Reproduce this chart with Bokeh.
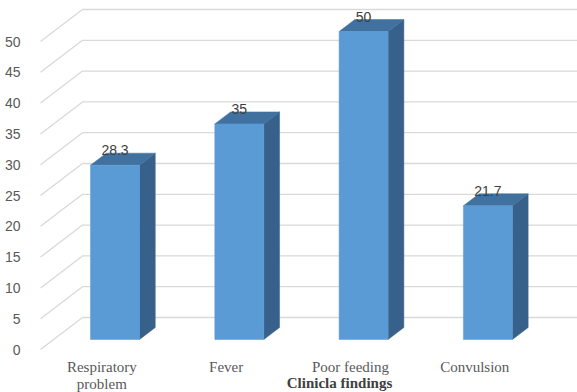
from bokeh.plotting import figure
from bokeh.models import Range1d, LinearAxis, FixedTicker, Label
from bokeh.core.properties import value
from bokeh.embed import file_html
from bokeh.resources import INLINE

# Data
categories = ["Respiratory\nproblem", "Fever", "Poor feeding", "Convulsion"]
percent = [28.3, 35, 50, 21.7]
tick_values = [0, 5, 10, 15, 20, 25, 30, 35, 40, 45, 50]

# Pixel scale of the data axes (x: per category slot, y: per unit)
PX_X = 124.3
PX_Y = 6.16

# Pseudo-3D depth: vertical rise t (px) maps to dx = 1.3125 * t, dy = t
def depth(t):
    return (1.3125 * t / PX_X, t / PX_Y)

bar_w = 49 / PX_X
side_dx, side_dy = depth(12)          # bar thickness
back_dx, back_dy = depth(22)          # back wall behind bar front
front_dx, front_dy = depth(-10)       # floor front edge

W, H = 577, 392
LEFT = 32
x_start = (LEFT - 114.5) / PX_X
x_end = (W - 114.5) / PX_X
y_start = -(H - 339) / PX_Y
y_end = 339 / PX_Y

p = figure(width=W, height=H, output_backend="svg", toolbar_location=None,
           x_range=Range1d(x_start, x_end), y_range=Range1d(y_start, y_end),
           min_border_left=LEFT, min_border_right=0, min_border_top=0,
           min_border_bottom=0)
p.outline_line_color = None
p.xaxis.visible = False
p.yaxis.visible = False
p.grid.visible = False
p.background_fill_color = "white"

# Value axis along the front edge of the side wall
p.extra_y_ranges = {"front": Range1d(y_start - front_dy, y_end - front_dy)}
yax = LinearAxis(y_range_name="front", ticker=FixedTicker(ticks=tick_values))
yax.axis_line_color = None
yax.major_tick_line_color = None
yax.minor_tick_line_color = None
yax.major_label_standoff = 6
yax.major_label_text_font = "Liberation Sans"
yax.major_label_text_font_size = "14px"
yax.major_label_text_color = "#595959"
p.add_layout(yax, "left")

# Wall gridlines: diagonal on the side wall, then horizontal on the back wall
wall_front_x = (40 - 114.5) / PX_X
wall_back_x = wall_front_x + 42 / PX_X
grid_xs = [[wall_front_x, wall_back_x, x_end + 0.5] for _ in tick_values]
grid_ys = [[v + front_dy, v + back_dy, v + back_dy] for v in tick_values]
p.multi_line(grid_xs, grid_ys, line_color="#d9d9d9", line_width=1.3)

# Bars: front face, top face and right side face
xs = list(range(len(percent)))
top_xs, top_ys, side_xs, side_ys = [], [], [], []
for i, v in zip(xs, percent):
    l, r = i - bar_w / 2, i + bar_w / 2
    top_xs.append([l, r, r + side_dx, l + side_dx])
    top_ys.append([v, v, v + side_dy, v + side_dy])
    side_xs.append([r, r + side_dx, r + side_dx, r])
    side_ys.append([0, side_dy, v + side_dy, v])

p.patches(side_xs, side_ys, fill_color="#37618a", line_color="#37618a", line_width=0.5)
p.patches(top_xs, top_ys, fill_color="#41719f", line_color="#41719f", line_width=0.5)
p.vbar(x=xs, top=percent, bottom=0, width=bar_w,
       fill_color="#5b9bd5", line_color="#5b9bd5", line_width=0.5)

# Value labels above each bar
p.text(x=xs, y=percent, text=[f"{v:g}" for v in percent],
       text_align="center", text_baseline="middle", y_offset=-15,
       text_font=value("Liberation Sans"), text_font_size="14px",
       text_color="#404040")

# Category labels along the floor front edge
cat_x = [i + front_dx for i in xs]
p.text(x=cat_x, y=[front_dy] * len(xs), text=categories,
       text_align="center", text_baseline="top", y_offset=9,
       text_font=value("Liberation Serif"), text_font_size="15px",
       text_color="#595959", text_line_height=1.1)

# Axis title
p.add_layout(Label(x=307, y=H - 382, x_units="screen", y_units="screen",
                   text="Clinicla findings", text_align="center",
                   text_baseline="middle", text_font="Liberation Serif",
                   text_font_size="15px", text_font_style="bold",
                   text_color="#404040"))

open("out.html", "w").write(file_html(p, INLINE))
